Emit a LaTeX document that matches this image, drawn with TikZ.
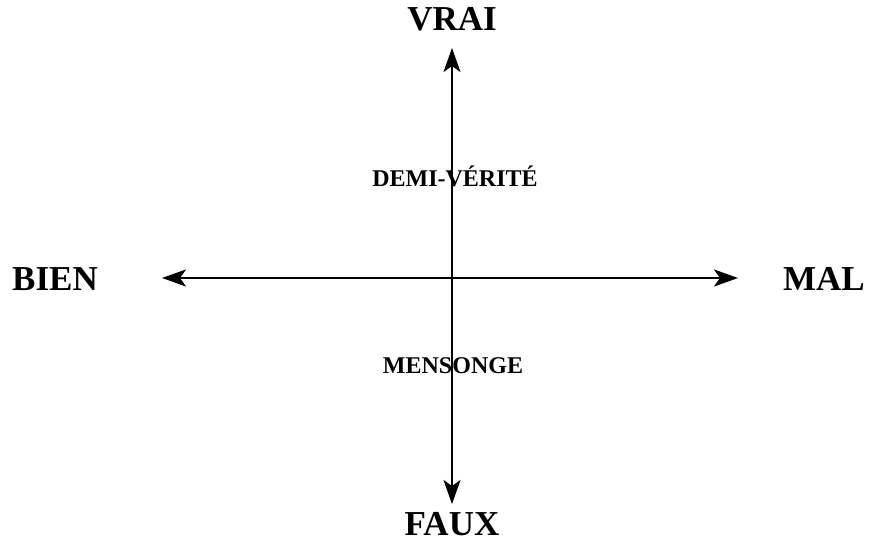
\documentclass[tikz,border=0pt]{standalone}
\usepackage{fontspec}
\setmainfont{Liberation Serif}
\usetikzlibrary{positioning}
\usetikzlibrary{arrows.meta}

\tikzset{
  pole/.style={font=\fontsize{35}{40}\selectfont\bfseries, anchor=base, inner sep=0pt},
  zone/.style={font=\fontsize{24}{28}\selectfont\bfseries, anchor=base, inner sep=0pt},
  axe/.style={-{Stealth[length=24pt,width=17pt,inset=6pt]}, line width=2.2pt}
}

\begin{document}
\begin{tikzpicture}[x=1pt,y=-1pt]
  \useasboundingbox (0,0) rectangle (872,541);
  % centre of the two axes
  \coordinate (o) at (452,278);
  \coordinate (haut) at (452,48);
  \coordinate (bas) at (452,504);
  \coordinate (gauche) at (162,278);
  \coordinate (droite) at (738,278);
  % poles
  \node[pole] (vrai) at (452,30) {VRAI};
  \node[pole] (faux) at (452,535) {FAUX};
  \node[pole] (bien) at (55,290) {BIEN};
  \node[pole] (mal) at (824,290) {MAL};
  % zones
  \node[zone] (demi) at (455,186) {DEMI-VÉRITÉ};
  \node[zone] (mensonge) at (453,373) {MENSONGE};
  % axes
  \draw[axe] (o) -- (haut);
  \draw[axe] (o) -- (bas);
  \draw[axe] (o) -- (gauche);
  \draw[axe] (o) -- (droite);
\end{tikzpicture}
\end{document}
